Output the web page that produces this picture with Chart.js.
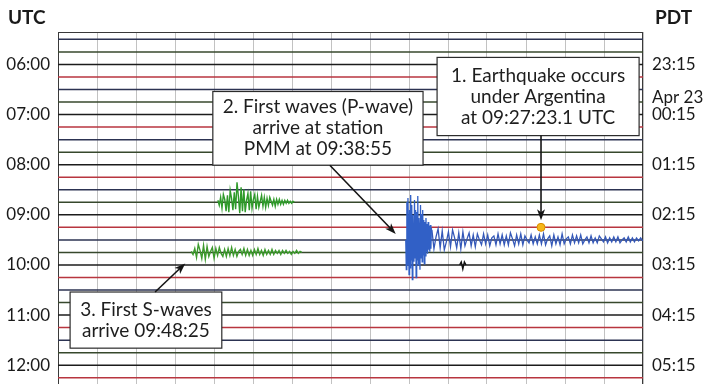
<!DOCTYPE html>
<html>
<head>
<meta charset="utf-8">
<script src="https://cdn.jsdelivr.net/npm/chart.js@4.4.0/dist/chart.umd.min.js"></script>
<style>
  html, body { margin: 0; padding: 0; background: #fff; }
  canvas { display: block; }
</style>
</head>
<body>
<canvas id="heli" width="705" height="384"></canvas>
<script>
// helicorder lines, start hour (UTC) of each 15 minute trace
const rowHours = [5.5, 5.75, 6, 6.25, 6.5, 6.75, 7, 7.25, 7.5, 7.75, 8, 8.25, 8.5, 8.75,
  9, 9.25, 9.5, 9.75, 10, 10.25, 10.5, 10.75, 11, 11.25, 11.5, 11.75, 12, 12.25];

// axis labels
const utcTickHours = [6, 7, 8, 9, 10, 11, 12];
const utcTickLabels = ['06:00', '07:00', '08:00', '09:00', '10:00', '11:00', '12:00'];
const pdtTickHours = [6, 6.66, 7, 8, 9, 10, 11, 12];
const pdtTickLabels = ['23:15', 'Apr 23', '00:15', '01:15', '02:15', '03:15', '04:15', '05:15'];

// events (row start hour, minute into the row)
const quakeRow = 9.25, quakeMin = 12.385;   // 09:27:23.1
const pWaveRow = 9.5, pWaveMin = 8.917;     // 09:38:55
const sWaveRow = 9.75, sWaveMin = 3.417;    // 09:48:25

// wiggles (amplitude units, up = positive)
const burstEarly = [2, -3, 5, -6, 8, 3, -9, 7, -10, 12, 4, -8, 10, -7, 20, 6, -11, 15, -9, 13, -10, 2, 9, -8,
  11, -6, 3, 8, -7, 6, -5, 1, 7, -4, 5, -5, 4, -3, 5, 1, -3, 3, -4, 3, -2, 3, -2, 2, -2, 2, -1, 2, -1, 1, -1, 1, 0];
const sWaves = [1, -2, 4, -5, 8, 2, -6, 7, -7, 6, -4, 1, 5, -6, 4, -3, 5, -1, -4, 3, -4, 4, -3, 5, -3, 3, -4,
  1, 3, -2, 4, -3, 3, -3, 2, -3, 3, -2, 4, -2, 2, -3, 3, -2, 2, -2, 3, -2, 2, -1, 2, -2, 2, -1, 2, -1, 1, -2, 1, -1, 2, -1, 1, 0];
const pWaves = [0, -30, 38, -25, 42, 10, -35, 30, -28, 45, -20, 35, -40, 25, -10, -22, 40, -18, 30, -38, 28, -20,
  44, -25, 22, 5, -30, 35, -18, 26, -22, 30, -15, 20, -24, 18, -16, 22, -12, 16, -14, 18, -10, 14, -12, 15, -9, 12];
const pCoda = [10, -9, 3, 11, -8, 9, -10, -2, 8, -7, 10, 2, -8, 7, -9, 8, -6, 1, 7,
  -6, 5, -7, 6, 0, -5, 6, -4, 5, -6, 2, 4, -5, 6, -4, 5, -5,
  4, -5, 7, 1, -6, 5, -4, 6, -5, 4, 0, -3, 5, -4, 3, -4, 5,
  -4, 6, -5, 1, 4, -6, 5, -4, 3, -5, 6, -4, 1, 3, -4, 5, -3,
  4, -3, 5, -4, 0, 3, -3, 4, -3, 2, -3, 4, 1, -2, 3, -3, 2,
  -2, 3, -2, 3, -3, 0, 2, -2, 3, -2, 2, -2, 2, -1, 2, -1];
const blip = [0, 3, -4, 3, 0];

const rowColors = ['#1c1c1c', '#b8353f', '#2c3352', '#37482c']; // 00, 15, 30, 45 min
const AMP = 0.25 / 12.6; // hours per amplitude unit

function burst(row, start, step, values) {
  return values.map((v, i) => ({ x: start + i * step, y: row - v * AMP }));
}

const datasets = [];

// the yellow origin dot
datasets.push({
  data: [{ x: quakeMin, y: quakeRow }],
  showLine: false, pointRadius: 4, pointBackgroundColor: '#f6b71a',
  pointBorderColor: '#d98e00', pointBorderWidth: 1, order: 0
});

datasets.push({ data: burst(pWaveRow, pWaveMin, 0.014, pWaves), borderColor: '#3160c6', borderWidth: 1.3, order: 1 });
datasets.push({ data: burst(pWaveRow, pWaveMin + 0.67, 0.053, pCoda), borderColor: '#3458b8', borderWidth: 1.3, order: 1 });
datasets.push({ data: burst(sWaveRow, sWaveMin, 0.045, sWaves), borderColor: '#3c9a2c', borderWidth: 1.4, order: 1 });
datasets.push({ data: burst(8.75, 4.1, 0.035, burstEarly), borderColor: '#2f9a2a', borderWidth: 1.4, order: 1 });
datasets.push({ data: burst(10, 10.3, 0.04, blip), borderColor: '#111', borderWidth: 1.4, order: 1 });

rowHours.forEach(h => {
  datasets.push({
    data: [{ x: 0, y: h }, { x: 15, y: h }],
    borderColor: rowColors[Math.round(h * 4) % 4],
    borderWidth: 1.5, order: 5
  });
});

// boxes with arrows, placed in minute / hour units
const notes = [
  { lines: ['1. Earthquake occurs', 'under Argentina', 'at 09:27:23.1 UTC'],
    x0: 9.72, x1: 14.9, y0: 5.86, y1: 7.42,
    from: { x: quakeMin, y: 7.42 }, to: { x: quakeMin, y: quakeRow }, off: [0, -7] },
  { lines: ['2. First waves (P-wave)', 'arrive at station', 'PMM at 09:38:55'],
    x0: 3.97, x1: 9.36, y0: 6.54, y1: 8.01,
    from: { x: 6.97, y: 8.01 }, to: { x: pWaveMin, y: pWaveRow }, off: [-10, -6] },
  { lines: ['3. First S-waves', 'arrive 09:48:25'],
    x0: 0.31, x1: 4.2, y0: 10.54, y1: 11.66,
    from: { x: 2.49, y: 10.54 }, to: { x: sWaveMin, y: sWaveRow }, off: [-6, 11] }
];

const FONT = 'Lato, "Open Sans", sans-serif';

const overlay = {
  id: 'overlay',
  beforeDatasetsDraw(chart) {
    const { ctx, chartArea: a } = chart;
    ctx.save();
    ctx.strokeStyle = '#3a3a3a';
    ctx.lineWidth = 1;
    ctx.strokeRect(a.left + 0.5, a.top + 0.5, a.right - a.left - 1, chart.height - a.top + 4);
    ctx.restore();
  },
  afterDatasetsDraw(chart) {
    const { ctx, chartArea: a, scales: { x, y } } = chart;
    ctx.save();
    notes.forEach(n => {
      const l = x.getPixelForValue(n.x0), r = x.getPixelForValue(n.x1);
      const t = y.getPixelForValue(n.y0), b = y.getPixelForValue(n.y1);
      ctx.fillStyle = '#fff';
      ctx.fillRect(l, t, r - l, b - t);
      ctx.strokeStyle = '#2b2b2b';
      ctx.lineWidth = 1.2;
      ctx.strokeRect(l, t, r - l, b - t);
      ctx.fillStyle = '#1e1e1e';
      ctx.font = '19px ' + FONT;
      ctx.textAlign = 'center';
      ctx.textBaseline = 'middle';
      const lh = 21, cy = (t + b) / 2;
      n.lines.forEach((s, i) => {
        ctx.fillText(s, (l + r) / 2, cy + (i - (n.lines.length - 1) / 2) * lh);
      });
      // arrow
      const x1 = x.getPixelForValue(n.from.x), y1 = y.getPixelForValue(n.from.y);
      const x2 = x.getPixelForValue(n.to.x) + n.off[0], y2 = y.getPixelForValue(n.to.y) + n.off[1];
      const ang = Math.atan2(y2 - y1, x2 - x1);
      ctx.strokeStyle = '#151515';
      ctx.lineWidth = 1.6;
      ctx.beginPath();
      ctx.moveTo(x1, y1);
      ctx.lineTo(x2 - 6 * Math.cos(ang), y2 - 6 * Math.sin(ang));
      ctx.stroke();
      ctx.fillStyle = '#151515';
      ctx.beginPath();
      ctx.moveTo(x2, y2);
      ctx.lineTo(x2 - 11 * Math.cos(ang) + 4 * Math.sin(ang), y2 - 11 * Math.sin(ang) - 4 * Math.cos(ang));
      ctx.lineTo(x2 - 8 * Math.cos(ang), y2 - 8 * Math.sin(ang));
      ctx.lineTo(x2 - 11 * Math.cos(ang) - 4 * Math.sin(ang), y2 - 11 * Math.sin(ang) + 4 * Math.cos(ang));
      ctx.closePath();
      ctx.fill();
    });
    // axis headers
    ctx.fillStyle = '#1a1a1a';
    ctx.font = 'bold 19px ' + FONT;
    ctx.textBaseline = 'middle';
    ctx.textAlign = 'left';
    ctx.fillText('UTC', 8, 18);
    ctx.fillText('PDT', a.right + 12, 18);
    ctx.restore();
  }
};

function noPad(s, w) {
  s.width = w;
  s.paddingTop = 0;
  s.paddingBottom = 0;
}

new Chart(document.getElementById('heli'), {
  type: 'line',
  data: { datasets: datasets },
  options: {
    responsive: false,
    animation: false,
    events: [],
    layout: { autoPadding: false, padding: { top: 32, bottom: 0, left: 0, right: 0 } },
    elements: { point: { radius: 0 }, line: { tension: 0 } },
    plugins: { legend: { display: false }, tooltip: { enabled: false } },
    scales: {
      x: {
        type: 'linear', min: 0, max: 15,
        ticks: { display: false, stepSize: 1 },
        grid: { color: 'rgba(120,120,120,0.45)', lineWidth: 1, drawTicks: false },
        border: { display: false },
        afterFit: s => { s.height = 0; s.paddingLeft = 0; s.paddingRight = 0; }
      },
      y: {
        type: 'linear', position: 'left', reverse: true, min: 5.353, max: 12.375,
        afterBuildTicks: s => { s.ticks = utcTickHours.map(v => ({ value: v })); },
        ticks: {
          padding: 8, color: '#1a1a1a', font: { family: FONT, size: 17 },
          callback: v => utcTickLabels[utcTickHours.indexOf(v)]
        },
        grid: { drawOnChartArea: false, drawTicks: false },
        border: { display: false },
        afterFit: s => noPad(s, 58)
      },
      y2: {
        type: 'linear', position: 'right', reverse: true, min: 5.353, max: 12.375,
        afterBuildTicks: s => { s.ticks = pdtTickHours.map(v => ({ value: v })); },
        ticks: {
          padding: 9, color: '#1a1a1a', font: { family: FONT, size: 17 },
          callback: v => pdtTickLabels[pdtTickHours.indexOf(v)]
        },
        grid: { drawOnChartArea: false, drawTicks: false },
        border: { display: false },
        afterFit: s => noPad(s, 62)
      }
    }
  },
  plugins: [overlay]
});
</script>
</body>
</html>
